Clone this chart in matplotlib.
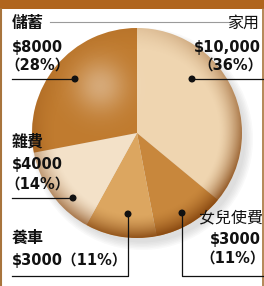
import numpy as np
import matplotlib
matplotlib.use('Agg')
import matplotlib.pyplot as plt
from matplotlib.patches import Circle, Rectangle

# ---- data (clockwise from 12 o'clock) ----
categories = ['家用', '女兒使費', '養車', '雜費', '儲蓄']
amounts = ['$10,000', '$3000', '$3000', '$4000', '$8000']
shares = [36, 11, 11, 14, 28]
colors = ['#efd5b0', '#c8873c', '#dca660', '#f3e1c8', '#c07b2f']

W, H = 264, 286
fig = plt.figure(figsize=(W / 100, H / 100), dpi=100)
ax = fig.add_axes([0, 0, 1, 1])
cx, cy, R = 137, 133, 105

# soft drop shadow
for i in range(6):
    ax.add_patch(Circle((cx + 5, cy + 6), R + 6 - i * 1.5, color='#8c8c8c',
                        alpha=0.05, lw=0, zorder=1))

ax.pie(shares, colors=colors, startangle=-90, counterclock=True, radius=R,
       center=(cx, cy), frame=True, wedgeprops=dict(linewidth=0, zorder=2))

# rim shading overlay
n = 300
xs = np.linspace(cx - R, cx + R, n)
ys = np.linspace(cy - R, cy + R, n)
X, Y = np.meshgrid(xs, ys)
dx = (X - cx) / R
dy = (Y - cy) / R
r = np.hypot(dx, dy)
rim = np.clip((r - 0.78) / 0.22, 0, 1) ** 1.6
dirf = 0.55 + 0.45 * np.clip((dx * 0.45 + dy * 0.9) / np.clip(r, 1e-6, None), -1, 1)
alpha = np.clip(rim * 0.85 * dirf, 0, 1)
hl = np.exp(-(((dx + 0.35) ** 2 + (dy + 0.45) ** 2) / 0.06)) * 0.35
rgba = np.zeros((n, n, 4))
rgba[..., 0] = 0.50
rgba[..., 1] = 0.25
rgba[..., 2] = 0.04
rgba[..., 3] = alpha
im = ax.imshow(rgba, extent=(cx - R, cx + R, cy + R, cy - R), zorder=3,
               interpolation='bilinear')
im.set_clip_path(Circle((cx, cy), R, transform=ax.transData))
hrgba = np.ones((n, n, 4))
hrgba[..., 3] = hl
im2 = ax.imshow(hrgba, extent=(cx - R, cx + R, cy + R, cy - R), zorder=3,
                interpolation='bilinear')
im2.set_clip_path(Circle((cx, cy), R, transform=ax.transData))

# frame / title bar
ax.add_patch(Rectangle((0, 0), W, 9, color='#b0651e', lw=0, zorder=5))
ax.plot([1, 1], [9, H], color='#a8743c', lw=1.5, zorder=5)
ax.plot([262.5, 262.5], [9, H], color='#a8743c', lw=1.2, zorder=5)
ax.plot([50, 232], [22, 22], color='#9a9a9a', lw=0.8, zorder=1)

cjk = ['Noto Sans CJK TC']
num = ['DejaVu Sans', 'Noto Sans CJK TC']
cfs, nfs = 11.5, 10.5
kw_n = dict(family=num, fontsize=nfs, fontweight='bold', va='top', zorder=6, color='#111111')
kw_c = dict(family=cjk, fontsize=cfs, va='top', zorder=6, color='#111111')

def pct(p):
    return '（%d%%）' % p

# 儲蓄 (top-left)
ax.text(12, 15, categories[4], fontweight='bold', ha='left', **kw_c)
ax.text(12, 40, amounts[4], ha='left', **kw_n)
ax.text(5, 58, pct(shares[4]), ha='left', **kw_n)
# 家用 (top-right)
ax.text(259, 15, categories[0], fontweight='medium', ha='right', **kw_c)
ax.text(261, 40, amounts[0], ha='right', **kw_n)
ax.text(263, 58, pct(shares[0]), ha='right', **kw_n)
# 雜費 (left)
ax.text(12, 134, categories[3], fontweight='bold', ha='left', **kw_c)
ax.text(12, 157, amounts[3], ha='left', **kw_n)
ax.text(5, 177, pct(shares[3]), ha='left', **kw_n)
# 養車 (bottom-left)
ax.text(12, 230, categories[2], fontweight='bold', ha='left', **kw_c)
ax.text(12, 252, amounts[2] + pct(shares[2]), ha='left', **kw_n)
# 女兒使費 (bottom-right)
ax.text(263, 209, categories[1], fontweight='normal', ha='right', **kw_c)
ax.text(261, 232, amounts[1], ha='right', **kw_n)
ax.text(265, 251, pct(shares[1]), ha='right', **kw_n)

# leader lines and dots
lk = dict(color='#111111', lw=0.9, zorder=6)
ax.plot([12, 75], [79, 79], **lk)
ax.plot([192, 264], [79, 79], **lk)
ax.plot([12, 73], [198, 198], **lk)
ax.plot([12, 128, 128], [276, 276, 214], **lk)
ax.plot([264, 182, 182], [276, 276, 213], **lk)
for (x, y) in [(75, 79), (192, 79), (73, 198), (128, 214), (182, 213)]:
    ax.add_patch(Circle((x, y), 2.8, color='#111111', zorder=7))

ax.set_xlim(0, W)
ax.set_ylim(H, 0)
ax.set_aspect('auto')
ax.axis('off')
fig.savefig('out.png', dpi=100, facecolor='white')
